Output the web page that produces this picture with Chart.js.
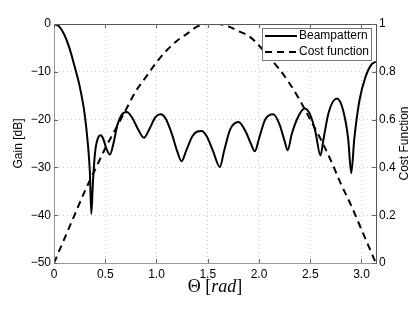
<!DOCTYPE html>
<html>
<head>
<meta charset="utf-8">
<script src="https://cdn.jsdelivr.net/npm/chart.js@4/dist/chart.umd.min.js"></script>
<style>
  html, body { margin: 0; padding: 0; background: #fff; }
  #wrap { width: 415px; height: 312px; }
</style>
</head>
<body>
<div id="wrap"><canvas id="chartCanvas" width="415" height="312"></canvas></div>
<script>
// Beampattern (dB)
const thetaBeam = [0, 0.05, 0.10, 0.15, 0.20, 0.25, 0.30, 0.33, 0.35, 0.364, 0.38, 0.40, 0.43, 0.455, 0.48, 0.51, 0.546,
  0.58, 0.62, 0.66, 0.71, 0.76, 0.82, 0.877, 0.93, 0.99, 1.04, 1.09, 1.15, 1.20, 1.245, 1.29, 1.35, 1.40, 1.44,
  1.49, 1.55, 1.618, 1.66, 1.72, 1.80, 1.87, 1.92, 1.96, 2.00, 2.06, 2.14, 2.20, 2.25, 2.28, 2.32, 2.38, 2.446,
  2.50, 2.55, 2.60, 2.63, 2.68, 2.76, 2.82, 2.87, 2.90, 2.93, 2.98, 3.04, 3.10, 3.14];
const gainBeam = [0, -0.5, -2.2, -5.0, -8.8, -13, -19, -25, -31, -39.7, -33, -27, -23.8, -23.3, -24, -26, -27.3,
  -25, -21, -19, -18.4, -19.5, -22, -23.8, -22, -19.5, -18.9, -19.8, -23, -26.5, -28.7, -26.5, -23.5, -22.5, -22.4,
  -23.5, -26.5, -29.9, -26.5, -22, -20.5, -22.5, -25, -26.6, -24, -20, -18.9, -21, -24.5, -26.4, -23, -19.5, -17.7,
  -19, -22.5, -27.5, -24, -18.5, -15.6, -18, -24, -31.2, -24, -16, -11, -8.4, -7.9];

// Cost function
const thetaCost = [0, 0.1, 0.2, 0.3, 0.4, 0.5, 0.6, 0.7, 0.8, 0.9, 1.0, 1.1, 1.2, 1.3, 1.4, 1.5, 1.6,
  1.7, 1.8, 1.9, 2.0, 2.1, 2.2, 2.3, 2.4, 2.5, 2.6, 2.7, 2.8, 2.9, 3.0, 3.1, 3.14];
const costValues = [0, 0.10, 0.20, 0.30, 0.39, 0.48, 0.56, 0.64, 0.72, 0.78, 0.84, 0.89, 0.93, 0.96, 0.99, 1.00, 1.00,
  0.99, 0.97, 0.95, 0.91, 0.86, 0.81, 0.75, 0.68, 0.60, 0.52, 0.43, 0.33, 0.24, 0.14, 0.04, 0];

const xTicks = [0, 0.5, 1, 1.5, 2, 2.5, 3];
const gainTicks = [0, -10, -20, -30, -40, -50];
const costTicks = [0, 0.2, 0.4, 0.6, 0.8, 1];

const FONT = "'Liberation Sans', Arial, Helvetica, sans-serif";

function toPoints(xs, ys) {
  return xs.map((x, i) => ({ x: x, y: ys[i] }));
}

// frame, inward ticks, titles and legend box
const decorations = {
  id: "decorations",
  afterDraw(chart) {
    const { ctx, chartArea: a, scales } = chart;
    ctx.save();
    ctx.strokeStyle = "#555";
    ctx.lineWidth = 1;
    ctx.beginPath();
    ctx.moveTo(a.left, a.top + 0.5);
    ctx.lineTo(a.right, a.top + 0.5);
    ctx.stroke();

    // inward tick marks
    ctx.strokeStyle = "#666";
    ctx.beginPath();
    xTicks.forEach(v => {
      const px = Math.round(scales.x.getPixelForValue(v)) + 0.5;
      ctx.moveTo(px, a.bottom); ctx.lineTo(px, a.bottom - 4);
      ctx.moveTo(px, a.top); ctx.lineTo(px, a.top + 4);
    });
    gainTicks.forEach(v => {
      const py = Math.round(scales.y.getPixelForValue(v)) + 0.5;
      ctx.moveTo(a.left, py); ctx.lineTo(a.left + 4, py);
    });
    costTicks.forEach(v => {
      const py = Math.round(scales.y1.getPixelForValue(v)) + 0.5;
      ctx.moveTo(a.right, py); ctx.lineTo(a.right - 4, py);
    });
    ctx.stroke();

    // axis titles
    ctx.fillStyle = "#000";
    ctx.font = "12px " + FONT;
    ctx.textAlign = "center";
    ctx.textBaseline = "middle";
    const cy = (a.top + a.bottom) / 2;
    ctx.save();
    ctx.translate(19, cy);
    ctx.rotate(-Math.PI / 2);
    ctx.fillText("Gain [dB]", 0, 0);
    ctx.restore();
    ctx.save();
    ctx.translate(405, cy);
    ctx.rotate(-Math.PI / 2);
    ctx.fillText("Cost Function", 0, 0);
    ctx.restore();

    // x title: Θ [rad] with italic rad
    const parts = [
      { t: "\u0398 [", f: "18px 'Liberation Serif', 'Times New Roman', serif" },
      { t: "rad", f: "italic 18px 'Liberation Serif', 'Times New Roman', serif" },
      { t: "]", f: "18px 'Liberation Serif', 'Times New Roman', serif" }
    ];
    let total = 0;
    parts.forEach(p => { ctx.font = p.f; p.w = ctx.measureText(p.t).width; total += p.w; });
    let tx = (a.left + a.right) / 2 - total / 2;
    ctx.textAlign = "left";
    parts.forEach(p => { ctx.font = p.f; ctx.fillText(p.t, tx, 287); tx += p.w; });

    // legend
    const bx = 262.5, by = 28.5, bw = 109, bh = 32;
    ctx.fillStyle = "#fff";
    ctx.fillRect(bx, by, bw, bh);
    ctx.strokeStyle = "#777";
    ctx.lineWidth = 1;
    ctx.strokeRect(bx, by, bw, bh);
    ctx.font = "12px " + FONT;
    ctx.fillStyle = "#000";
    ctx.textBaseline = "middle";
    chart.data.datasets.forEach((ds, i) => {
      const ly = 36 + i * 16;
      ctx.strokeStyle = "#000";
      ctx.lineWidth = 2;
      ctx.setLineDash(ds.borderDash || []);
      ctx.beginPath();
      ctx.moveTo(265, ly);
      ctx.lineTo(297, ly);
      ctx.stroke();
      ctx.setLineDash([]);
      ctx.fillText(ds.label, 299, ly);
    });
    ctx.restore();
  }
};

const ctx = document.getElementById("chartCanvas");
new Chart(ctx, {
  type: "line",
  data: {
    datasets: [{
      label: "Beampattern",
      data: toPoints(thetaBeam, gainBeam),
      yAxisID: "y",
      borderColor: "#000",
      borderWidth: 2,
      pointRadius: 0,
      cubicInterpolationMode: "monotone",
      fill: false
    }, {
      label: "Cost function",
      data: toPoints(thetaCost, costValues),
      yAxisID: "y1",
      borderColor: "#000",
      borderWidth: 2,
      borderDash: [7, 5],
      pointRadius: 0,
      cubicInterpolationMode: "monotone",
      fill: false
    }]
  },
  options: {
    responsive: false,
    animation: false,
    devicePixelRatio: 1,
    layout: { padding: { top: 24, left: 0, right: 0, bottom: 0 } },
    plugins: { legend: { display: false }, tooltip: { enabled: false } },
    scales: {
      x: {
        type: "linear",
        min: 0,
        max: 3.1416,
        afterBuildTicks: s => { s.ticks = xTicks.map(v => ({ value: v })); },
        afterFit: s => { s.height = 49; },
        ticks: { color: "#000", font: { family: FONT, size: 12 }, padding: 4, maxRotation: 0 },
        grid: { color: "#c8c8c8", drawTicks: false },
        border: { color: "#999", width: 1, dash: [1, 3] }
      },
      y: {
        type: "linear",
        position: "left",
        min: -50,
        max: 0,
        afterBuildTicks: s => { s.ticks = gainTicks.map(v => ({ value: v })); },
        afterFit: s => { s.width = 54; },
        ticks: {
          color: "#000",
          font: { family: FONT, size: 12 },
          padding: 3,
          callback: v => (v < 0 ? "\u2212" + Math.abs(v) : String(v))
        },
        grid: { color: "#c8c8c8", drawTicks: false },
        border: { color: "#999", width: 1, dash: [1, 3] }
      },
      y1: {
        type: "linear",
        position: "right",
        min: 0,
        max: 1,
        afterBuildTicks: s => { s.ticks = costTicks.map(v => ({ value: v })); },
        afterFit: s => { s.width = 39; },
        ticks: { color: "#000", font: { family: FONT, size: 12 }, padding: 3, callback: v => String(v) },
        grid: { drawOnChartArea: false, drawTicks: false },
        border: { color: "#555", width: 1 }
      }
    }
  },
  plugins: [decorations]
});
</script>
</body>
</html>
